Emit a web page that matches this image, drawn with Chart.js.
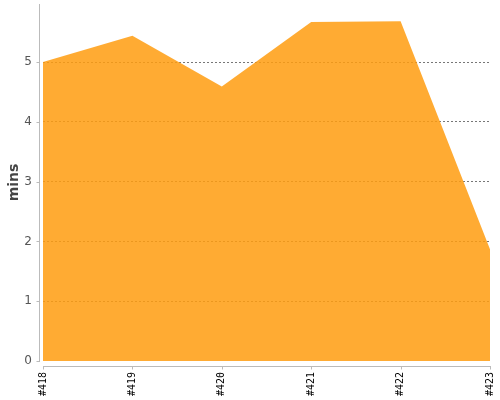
<!DOCTYPE html>
<html><head><meta charset="utf-8">
<script src="https://cdn.jsdelivr.net/npm/chart.js@4"></script>
<style>html,body{margin:0;padding:0;background:#fff}#wrap{width:500px;height:400px}</style>
</head><body><div id="wrap"><canvas id="c"></canvas></div>
<script>
const categories = ["#418", "#419", "#420", "#421", "#422", "#423"];
const minsValues = [5.0, 5.44, 4.59, 5.67, 5.68, 1.87];
const yTicks = [0, 1, 2, 3, 4, 5];
const yMax = 5.97;

const axisPlugin = {
  id: 'axisLines',
  afterDraw(chart) {
    const ctx = chart.ctx, a = chart.chartArea;
    const xs = chart.scales.x, ys = chart.scales.y;
    ctx.save();
    ctx.strokeStyle = '#bbbbbb';
    ctx.lineWidth = 1;
    ctx.beginPath();
    const ax = Math.round(a.left) - 3.5;
    ctx.moveTo(ax, a.top); ctx.lineTo(ax, a.bottom + 1);
    yTicks.forEach(v => { const y = Math.round(ys.getPixelForValue(v)) + 0.5; ctx.moveTo(ax - 3, y); ctx.lineTo(ax, y); });
    const ay = Math.round(a.bottom) + 5.5;
    ctx.moveTo(a.left, ay); ctx.lineTo(a.right + 1, ay);
    categories.forEach((c, i) => { const x = Math.round(xs.getPixelForValue(i)) + 0.5; ctx.moveTo(x, ay); ctx.lineTo(x, ay + 3); });
    ctx.stroke();
    ctx.restore();
  }
};

function zeroPad(s) { s.paddingTop = 0; s.paddingBottom = 0; s.paddingLeft = 0; s.paddingRight = 0; }

new Chart(document.getElementById('c'), {
  type: 'line',
  data: {
    labels: categories,
    datasets: [{
      data: minsValues,
      fill: 'origin',
      backgroundColor: 'rgba(255,156,15,0.85)',
      borderWidth: 0,
      pointRadius: 0,
      tension: 0
    }]
  },
  options: {
    responsive: true,
    maintainAspectRatio: false,
    animation: false,
    layout: { padding: { top: 4, right: 10, left: 0, bottom: 0 } },
    plugins: { legend: { display: false }, tooltip: { enabled: false } },
    scales: {
      x: {
        type: 'category',
        offset: false,
        grid: { display: false, drawTicks: false },
        border: { display: false },
        ticks: {
          minRotation: 90, maxRotation: 90, autoSkip: false, padding: 11,
          color: '#000', font: { family: 'DejaVu Sans Mono', size: 10 }
        },
        afterFit(s) { s.height = 39; zeroPad(s); }
      },
      y: {
        min: 0, max: yMax,
        afterBuildTicks(s) { s.ticks = yTicks.map(v => ({ value: v })); },
        grid: {
          color: ctx => (ctx.tick && ctx.tick.value === 0) ? 'rgba(0,0,0,0)' : '#777',
          drawTicks: false, lineWidth: 1
        },
        border: { display: false, dash: [2, 2] },
        ticks: {
          padding: 11, color: '#555',
          font: { family: 'DejaVu Sans', size: 12 },
          callback: v => String(v)
        },
        title: {
          display: true, text: 'mins', color: '#444',
          font: { family: 'DejaVu Sans', size: 14, weight: 'bold' },
          padding: { top: 6, bottom: 0 }
        },
        afterFit(s) { s.width = 43; zeroPad(s); }
      }
    }
  },
  plugins: [axisPlugin]
});
</script></body></html>
